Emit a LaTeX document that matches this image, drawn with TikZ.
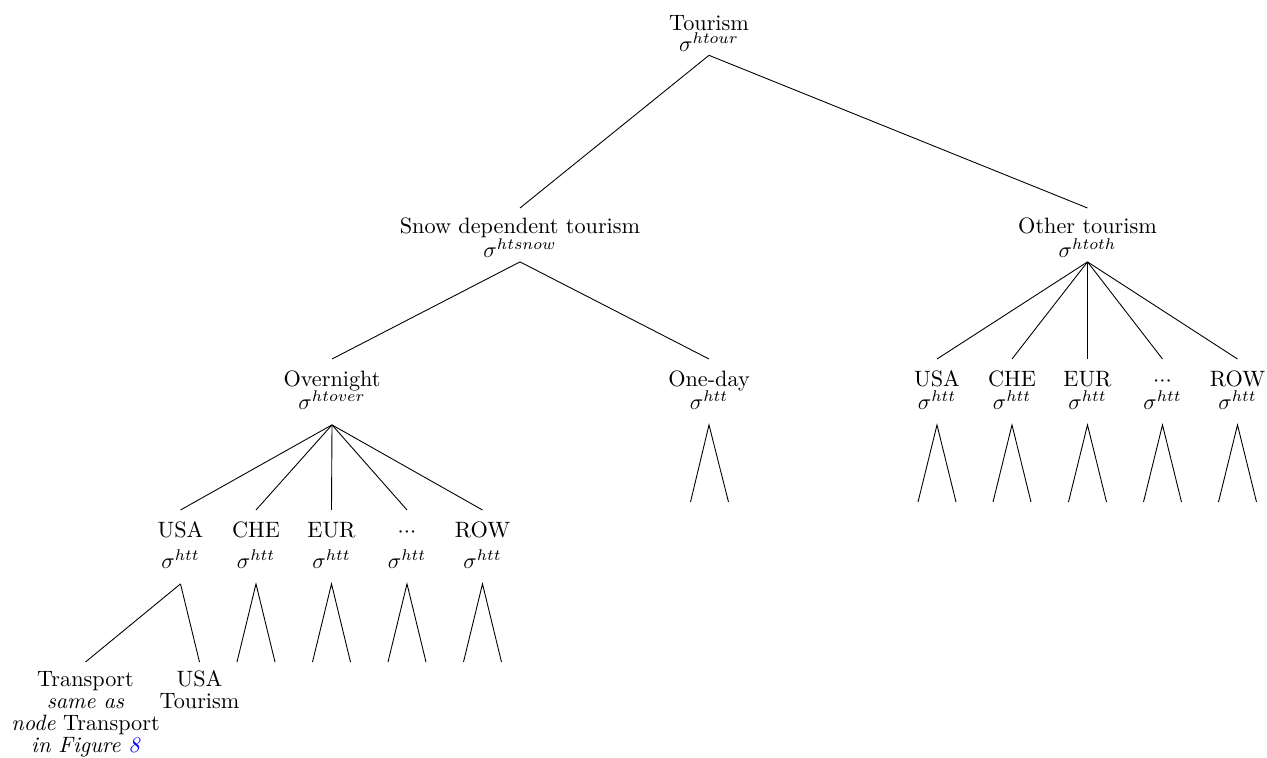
\documentclass[tikz,border=0pt]{standalone}
\usepackage{xcolor}
% invisible struts: extra room above the first line / below the last line
\newcommand\topgap[1]{\rule{0pt}{#1}}
\newcommand\botgap[1]{\rule[-#1]{0pt}{#1}}
\newcommand\middots{${\cdot}{\cdot}{\cdot}$}
\begin{document}
\begin{tikzpicture}[x=0.45pt, y=-0.45pt,
  tn/.style={anchor=north, inner sep=0pt, align=center},
  link/.style={draw, line width=0.4pt}]
\useasboundingbox (0,0) rectangle (1267,758);

% root
\node[tn] (root) at (709,8) {\topgap{9.9pt}Tourism\\[-2.6pt]$\sigma^{htour}$\botgap{1.6pt}};

% first level
\node[tn] (snow) at (520,208) {\topgap{11.25pt}Snow dependent tourism\\[-1.2pt]$\sigma^{htsnow}$\botgap{1.8pt}};
\node[tn] (other) at (1087.5,208) {\topgap{11.25pt}Other tourism\\[-1.2pt]$\sigma^{htoth}$\botgap{1.8pt}};
\draw[link] (root.south) -- (snow.north);
\draw[link] (root.south) -- (other.north);

% second level under snow dependent tourism
\node[tn] (over) at (332,359) {\topgap{12.2pt}Overnight\\[-1.6pt]$\sigma^{htover}$\botgap{6.65pt}};
\node[tn] (oneday) at (709,359) {\topgap{12.2pt}One-day\\[-1.6pt]$\sigma^{htt}$\botgap{6.65pt}};
\draw[link] (snow.south) -- (over.north);
\draw[link] (snow.south) -- (oneday.north);
\coordinate (oneday-l) at (690.5,502);
\coordinate (oneday-r) at (728.5,502);
\draw[link] (oneday-l) -- (oneday.south) -- (oneday-r);

% regions under other tourism
\foreach \i/\x/\t in {1/937/USA, 2/1012/CHE, 3/1087.5/EUR, 4/1162.5/\middots, 5/1237.5/ROW} {
  \node[tn] (o\i) at (\x,359) {\topgap{12.2pt}\t\\[-1.6pt]$\sigma^{htt}$\botgap{6.65pt}};
  \draw[link] (other.south) -- (o\i.north);
  \coordinate (o\i-l) at (\x-19,502);
  \coordinate (o\i-r) at (\x+19,502);
  \draw[link] (o\i-l) -- (o\i.south) -- (o\i-r);
}

% regions under overnight
\foreach \i/\x/\t in {1/180.5/USA, 2/256/CHE, 3/331.5/EUR, 4/407/\middots, 5/482.5/ROW} {
  \node[tn] (v\i) at (\x,510) {\topgap{12.15pt}\t\\[1.95pt]$\sigma^{htt}$\botgap{6.75pt}};
  \draw[link] (over.south) -- (v\i.north);
}
\foreach \i/\x in {2/256, 3/331.5, 4/407, 5/482.5} {
  \coordinate (v\i-l) at (\x-19,662);
  \coordinate (v\i-r) at (\x+19,662);
  \draw[link] (v\i-l) -- (v\i.south) -- (v\i-r);
}

% leaves of the overnight USA branch
\node[tn] (transport) at (85.5,662) {\topgap{10.8pt}Transport\\[-2.1pt]\textit{same as}\\[-2.1pt]\textit{node} Transport\\[-2.1pt]\textit{in Figure \textcolor{blue}{8}}};
\node[tn] (usatour) at (199.5,662) {\topgap{10.8pt}USA\\[-2.1pt]Tourism};
\draw[link] (v1.south) -- (transport.north);
\draw[link] (v1.south) -- (usatour.north);
\end{tikzpicture}
\end{document}
